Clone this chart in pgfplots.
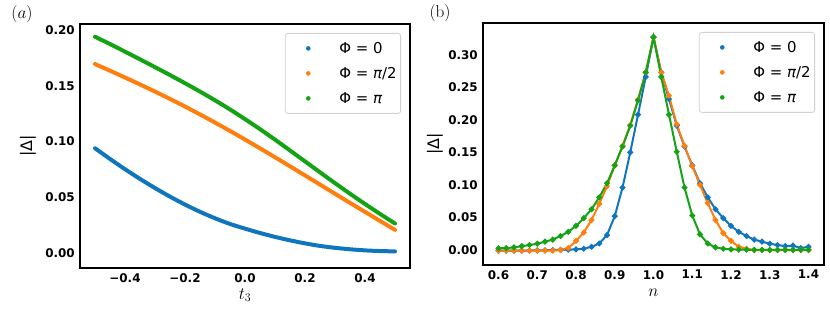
\documentclass[border=0pt]{standalone}
\usepackage[no-math]{fontspec}
\setmainfont{DejaVu Sans}
\usepackage{pgfplots}
\pgfplotsset{compat=1.18}
\definecolor{cA}{RGB}{15,118,190}
\definecolor{cB}{RGB}{255,127,14}
\definecolor{cC}{RGB}{20,163,20}
\pgfplotsset{
  myaxis/.style={
    scale only axis,
    axis line style={line width=2.8bp, black},
    major tick length=0pt,
    tick style={draw=none},
    ticklabel style={font=\fontsize{12}{12}\selectfont\bfseries, inner sep=0bp},
    yticklabel style={xshift=-5bp},
    xticklabel style={yshift=-5bp},
    legend style={at={(1,1)}, anchor=north east, xshift=-9bp, yshift=-9bp,
      draw=black!18, rounded corners=2.5bp, line width=0.8bp, fill=white,
      inner xsep=4bp, inner ysep=2.5bp, row sep=0bp,
      font=\fontsize{15}{15}\selectfont, nodes={inner sep=0bp}},
    legend cell align=left,
    legend image code/.code={\fill[##1, draw=none] (0bp,0bp) circle (2.3bp);
      \path[draw=none, fill=none] (-19bp,-12.5bp) rectangle (31bp,12.5bp);},
  }
}
\begin{document}
\begin{tikzpicture}[x=1bp,y=1bp]
\useasboundingbox (0,0) rectangle (830,321);
\node[font=\fontsize{16}{16}\selectfont] at (22,307) {$(a)$};
\node[font=\fontsize{16}{16}\selectfont] at (440,308) {$(\mathrm{b})$};
\begin{axis}[myaxis, at={(80bp,53bp)}, anchor=south west,
  width=330bp, height=244bp,
  xmin=-0.55, xmax=0.55, ymin=-0.0134, ymax=0.2054,
  xtick={-0.4,-0.2,0,0.2,0.4}, xticklabels={−0.4,−0.2,0.0,0.2,0.4},
  ytick={0,0.05,0.1,0.15,0.2}, yticklabels={0.00,0.05,0.10,0.15,0.20},
  xlabel={$t_3$}, xlabel style={font=\fontsize{17}{17}\selectfont, at={(axis description cs:0.5,-0.111)}, anchor=center},
  ylabel={|Δ|}, ylabel style={font=\fontsize{16}{16}\selectfont, at={(axis description cs:-0.158,0.5)}, anchor=center},
]
\addplot[cA, line width=4bp, smooth, line cap=round] coordinates {
(-0.5,0.0940) (-0.45,0.0844) (-0.4,0.0752) (-0.35,0.0665) (-0.3,0.0583) (-0.25,0.0506)
(-0.2,0.0435) (-0.15,0.0370) (-0.1,0.0312) (-0.05,0.0261) (0.0,0.0219) (0.05,0.0180)
(0.1,0.0145) (0.15,0.0114) (0.2,0.0087) (0.25,0.0064) (0.3,0.0047) (0.35,0.0034)
(0.4,0.0024) (0.45,0.0018) (0.5,0.0015)};
\addlegendentry{Φ = 0}
\addplot[cB, line width=4bp, smooth, line cap=round] coordinates {
(-0.5,0.1695) (-0.45,0.1635) (-0.4,0.1574) (-0.35,0.1512) (-0.3,0.1448) (-0.25,0.1382)
(-0.2,0.1314) (-0.15,0.1243) (-0.1,0.1170) (-0.05,0.1095) (0.0,0.1018) (0.05,0.0939)
(0.1,0.0859) (0.15,0.0778) (0.2,0.0696) (0.25,0.0614) (0.3,0.0532) (0.35,0.0450)
(0.4,0.0369) (0.45,0.0288) (0.5,0.0208)};
\addlegendentry{Φ = {\itshape π}/2}
\addplot[cC, line width=4bp, smooth, line cap=round] coordinates {
(-0.5,0.1940) (-0.45,0.1874) (-0.4,0.1806) (-0.35,0.1737) (-0.3,0.1667) (-0.25,0.1596)
(-0.2,0.1523) (-0.15,0.1448) (-0.1,0.1370) (-0.05,0.1288) (0.0,0.1201) (0.05,0.1111)
(0.1,0.1017) (0.15,0.0920) (0.2,0.0822) (0.25,0.0724) (0.3,0.0627) (0.35,0.0532)
(0.4,0.0440) (0.45,0.0351) (0.5,0.0265)};
\addlegendentry{Φ = {\itshape π}}
\end{axis}
\begin{axis}[myaxis, at={(483bp,56bp)}, anchor=south west,
  width=341bp, height=242bp,
  xmin=0.56, xmax=1.44, ymin=-0.023, ymax=0.3488,
  xtick={0.6,0.7,0.8,0.9,1.0,1.1,1.2,1.3,1.4}, xticklabels={0.6,0.7,0.8,0.9,1.0,1.1,1.2,1.3,1.4},
  ytick={0,0.05,0.1,0.15,0.2,0.25,0.3}, yticklabels={0.00,0.05,0.10,0.15,0.20,0.25,0.30},
  xlabel={$n$}, xlabel style={font=\fontsize{17}{17}\selectfont, at={(axis description cs:0.5,-0.1157)}, anchor=center},
  ylabel={|Δ|}, ylabel style={font=\fontsize{16}{16}\selectfont, at={(axis description cs:-0.1408,0.5)}, anchor=center},
]
\addplot[cA, line width=2bp, mark=*, mark size=1.8bp, mark options={solid, fill=cA, draw=cA}] coordinates {
(0.60,-0.001) (0.62,-0.001) (0.64,-0.001) (0.66,-0.001) (0.68,-0.0008) (0.70,-0.0005)
(0.72,-0.0003) (0.74,0.0) (0.76,0.0002) (0.78,0.0006) (0.80,0.001) (0.82,0.002)
(0.84,0.005) (0.86,0.010) (0.88,0.023) (0.90,0.052) (0.92,0.096) (0.94,0.150)
(0.96,0.208) (0.98,0.266) (1.00,0.327) (1.02,0.273) (1.04,0.232) (1.06,0.191)
(1.08,0.159) (1.10,0.130) (1.12,0.1026) (1.14,0.081) (1.16,0.0626) (1.18,0.049)
(1.20,0.037) (1.22,0.028) (1.24,0.0215) (1.26,0.016) (1.28,0.0128) (1.30,0.0097)
(1.32,0.0077) (1.34,0.006) (1.36,0.0067) (1.38,0.003) (1.40,0.005)};
\addlegendentry{Φ = 0}
\addplot[cB, line width=2bp, mark=*, mark size=1.8bp, mark options={solid, fill=cB, draw=cB}] coordinates {
(0.60,-0.001) (0.62,-0.001) (0.64,-0.001) (0.66,-0.001) (0.68,-0.001) (0.70,-0.001)
(0.72,-0.001) (0.74,-0.0008) (0.76,0.0) (0.78,0.003) (0.80,0.014) (0.82,0.027)
(0.84,0.046) (0.86,0.071) (0.88,0.098) (0.90,0.130) (0.92,0.160) (0.94,0.192)
(0.96,0.231) (0.98,0.273) (1.00,0.327) (1.02,0.273) (1.04,0.237) (1.06,0.193)
(1.08,0.160) (1.10,0.129) (1.12,0.100) (1.14,0.072) (1.16,0.046) (1.18,0.026)
(1.20,0.014) (1.22,0.005) (1.24,0.002) (1.26,0.0) (1.28,0.0) (1.30,0.0)
(1.32,0.0) (1.34,0.0) (1.36,0.0) (1.38,0.0) (1.40,0.0)};
\addlegendentry{Φ = {\itshape π}/2}
\addplot[cC, line width=2bp, mark=*, mark size=1.8bp, mark options={solid, fill=cC, draw=cC}] coordinates {
(0.60,0.0026) (0.62,0.003) (0.64,0.004) (0.66,0.006) (0.68,0.0077) (0.70,0.0097)
(0.72,0.0128) (0.74,0.016) (0.76,0.0215) (0.78,0.028) (0.80,0.037) (0.82,0.049)
(0.84,0.0626) (0.86,0.081) (0.88,0.1026) (0.90,0.130) (0.92,0.159) (0.94,0.191)
(0.96,0.230) (0.98,0.273) (1.00,0.327) (1.02,0.266) (1.04,0.208) (1.06,0.151)
(1.08,0.096) (1.10,0.053) (1.12,0.024) (1.14,0.010) (1.16,0.004) (1.18,0.002)
(1.20,0.001) (1.22,0.0007) (1.24,0.0005) (1.26,0.0003) (1.28,0.0003) (1.30,0.0003)
(1.32,0.0003) (1.34,0.0003) (1.36,0.0003) (1.38,0.0003) (1.40,0.0003)};
\addlegendentry{Φ = {\itshape π}}
\end{axis}
\end{tikzpicture}
\end{document}
